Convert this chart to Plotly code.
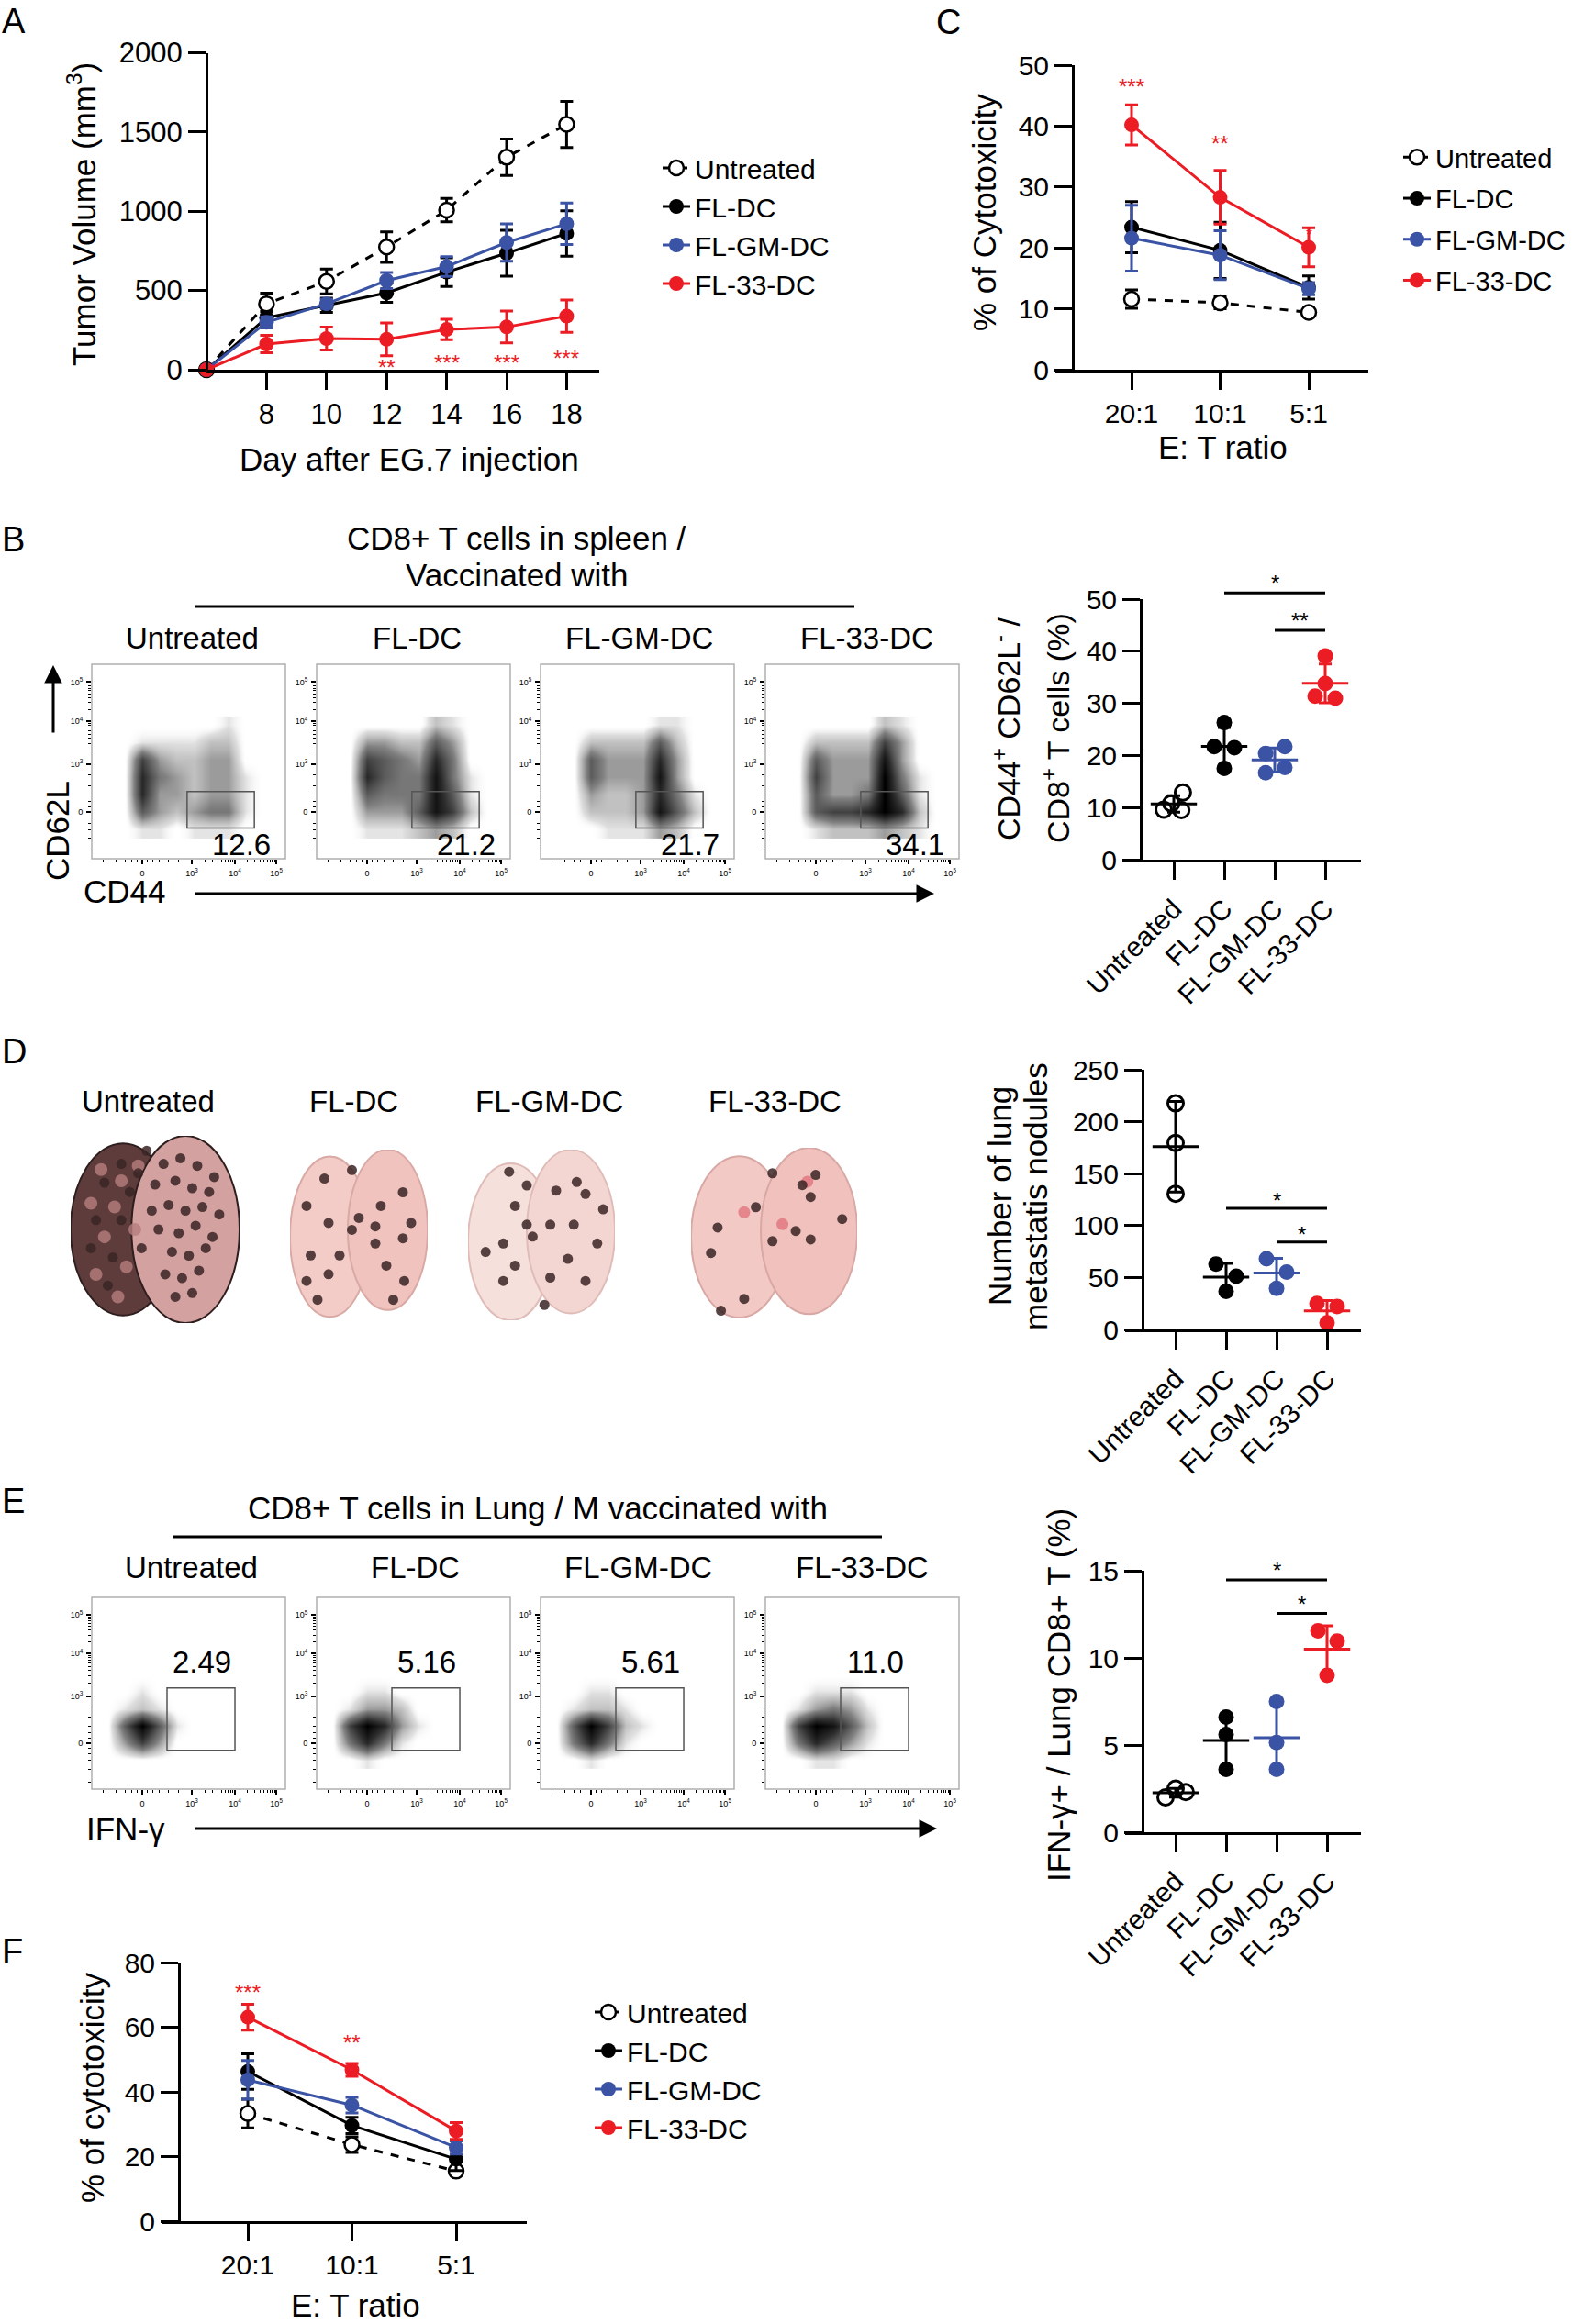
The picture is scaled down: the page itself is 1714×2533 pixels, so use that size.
import numpy as np
import plotly.graph_objects as go

W, H = 1714, 2533
FONT = "Liberation Sans, Arial, Helvetica, sans-serif"
BLACK, BLUE, RED = "#000000", "#3a53a4", "#ec1c24"
COLORS = [BLACK, BLACK, BLUE, RED]

groups = ["Untreated", "FL-DC", "FL-GM-DC", "FL-33-DC"]

# ---- A: tumour growth
days = [6, 8, 10, 12, 14, 16, 18]
vol_untreated = [0, 416, 557, 774, 1007, 1341, 1548]
vol_untreated_err = [0, 68, 78, 96, 74, 115, 145]
vol_fldc = [0, 328, 407, 485, 616, 735, 860]
vol_fldc_err = [0, 40, 45, 60, 90, 145, 143]
vol_flgm = [0, 299, 416, 563, 651, 803, 921]
vol_flgm_err = [0, 35, 30, 50, 62, 118, 131]
vol_fl33 = [0, 162, 197, 192, 254, 270, 338]
vol_fl33_err = [0, 55, 72, 103, 65, 100, 102]
vol_star_days = [12, 14, 16, 18]
vol_star_text = ["**", "***", "***", "***"]
vol_star_y = [35, 65, 65, 94]

# ---- C: cytotoxicity, spleen
et_ratio = ["20:1", "10:1", "5:1"]
cyt_c_untreated = [11.6, 11.0, 9.4]
cyt_c_untreated_err = [1.5, 1.0, 0.5]
cyt_c_fldc = [23.4, 19.6, 13.5]
cyt_c_fldc_err = [4.2, 4.6, 1.9]
cyt_c_flgm = [21.6, 18.8, 13.3]
cyt_c_flgm_err = [5.4, 4.0, 1.0]
cyt_c_fl33 = [40.2, 28.3, 20.1]
cyt_c_fl33_err = [3.3, 4.4, 3.2]
cyt_c_star_text = ["***", "**", "*"]
cyt_c_star_y = [47.0, 37.7, 22.8]

# ---- F: cytotoxicity, lung
cyt_f_untreated = [33.3, 23.7, 15.5]
cyt_f_untreated_err = [4.4, 2.4, 0.8]
cyt_f_fldc = [46.3, 29.6, 19.2]
cyt_f_fldc_err = [5.5, 2.5, 3.5]
cyt_f_flgm = [43.7, 35.9, 22.8]
cyt_f_flgm_err = [6.0, 2.4, 2.0]
cyt_f_fl33 = [63.1, 46.8, 27.9]
cyt_f_fl33_err = [4.0, 2.0, 2.6]
cyt_f_star_text = ["***", "**"]
cyt_f_star_y = [72.0, 56.4]

# ---- B right: CD44+ CD62L- (%)
cd44_untreated = [12.9, 10.8, 9.6, 9.5]
cd44_fldc = [26.3, 21.7, 21.5, 17.5]
cd44_flgm = [21.7, 20.4, 17.7, 16.7]
cd44_fl33 = [39.1, 33.8, 31.4, 31.0]
cd44_sig = [(1, 3, 51.2, "*"), (2, 3, 44.0, "**")]

# ---- D right: lung nodules
nod_untreated = [217.7, 179.6, 130.6]
nod_fldc = [63.0, 51.3, 36.7]
nod_flgm = [68.0, 55.2, 39.6]
nod_fl33 = [25.0, 22.0, 6.5]
nod_sig = [(1, 3, 116.5, "*"), (2, 3, 84.2, "*")]

# ---- E right: IFN-g+ (%)
ifn_untreated = [2.0, 2.5, 2.3]
ifn_fldc = [6.6, 5.6, 3.6]
ifn_flgm = [7.5, 5.15, 3.6]
ifn_fl33 = [11.55, 10.96, 9.0]
ifn_sig = [(1, 3, 14.47, "*"), (2, 3, 12.55, "*")]

# ---- flow plots (gate percentages and rough dot density, top row first)
cd44_gate_pct = ["12.6", "21.2", "21.7", "34.1"]
ifn_gate_pct = ["2.49", "5.16", "5.61", "11.0"]
flow_b_x = [-0.4, 0.0, 0.4, 0.8, 1.2, 1.6, 2.0, 2.4, 2.8]
flow_b_y = [2.0, 1.6, 1.2, 0.8, 0.4, 0.0, -0.4]
dens_b_untreated = [[0, 0, 0, 0, 0, 0, 1, 0, 0],
                    [0, 1, 1, 1, 1, 2, 2, 0, 0],
                    [0, 6, 3, 2, 2, 3, 3, 0, 0],
                    [0, 7, 4, 3, 2, 3, 3, 1, 0],
                    [0, 7, 3, 3, 2, 3, 3, 1, 0],
                    [0, 5, 3, 2, 3, 4, 4, 1, 0],
                    [0, 1, 1, 0, 1, 1, 1, 0, 0]]
dens_b_fldc = [[0, 0, 0, 0, 0, 2, 1, 0, 0],
               [0, 3, 3, 2, 2, 5, 3, 0, 0],
               [0, 6, 5, 4, 3, 7, 4, 0, 0],
               [0, 7, 5, 4, 4, 8, 4, 1, 0],
               [0, 5, 4, 4, 4, 8, 5, 1, 0],
               [0, 3, 3, 3, 5, 8, 6, 2, 0],
               [0, 1, 1, 1, 2, 3, 2, 0, 0]]
dens_b_flgm = [[0, 0, 0, 0, 0, 1, 1, 0, 0],
               [0, 2, 2, 2, 2, 5, 2, 0, 0],
               [0, 5, 3, 3, 3, 7, 3, 0, 0],
               [0, 5, 3, 3, 3, 8, 3, 0, 0],
               [0, 3, 2, 2, 3, 7, 4, 1, 0],
               [0, 2, 2, 2, 3, 8, 5, 2, 0],
               [0, 0, 1, 1, 1, 3, 2, 0, 0]]
dens_b_fl33 = [[0, 0, 0, 0, 0, 2, 1, 0, 0],
               [0, 2, 2, 2, 2, 6, 3, 0, 0],
               [0, 5, 3, 3, 3, 8, 3, 0, 0],
               [0, 6, 3, 3, 3, 9, 4, 1, 0],
               [0, 5, 3, 3, 4, 9, 5, 1, 0],
               [0, 5, 6, 6, 7, 9, 7, 2, 0],
               [0, 1, 2, 2, 2, 3, 2, 1, 0]]
flow_e_x = [-0.8, -0.4, 0.0, 0.4, 0.8, 1.2, 1.6, 2.0, 2.4]
flow_e_y = [1.6, 1.2, 0.8, 0.4, 0.0, -0.4]
dens_e_untreated = [[0, 0, 0, 0, 0, 0, 0, 0, 0],
                    [0, 0, 1, 0, 0, 0, 0, 0, 0],
                    [0, 1, 2, 1, 0, 0, 0, 0, 0],
                    [0, 5, 9, 5, 1, 0, 0, 0, 0],
                    [0, 3, 6, 3, 0, 0, 0, 0, 0],
                    [0, 0, 0, 0, 0, 0, 0, 0, 0]]
dens_e_fldc = [[0, 0, 0, 0, 0, 0, 0, 0, 0],
               [0, 0, 1, 1, 0, 0, 0, 0, 0],
               [0, 1, 3, 3, 2, 0, 0, 0, 0],
               [0, 6, 9, 7, 3, 1, 0, 0, 0],
               [0, 4, 7, 4, 1, 0, 0, 0, 0],
               [0, 0, 1, 0, 0, 0, 0, 0, 0]]
dens_e_flgm = [[0, 0, 0, 0, 0, 0, 0, 0, 0],
               [0, 0, 1, 1, 0, 0, 0, 0, 0],
               [0, 1, 2, 2, 1, 0, 0, 0, 0],
               [0, 5, 9, 6, 2, 1, 0, 0, 0],
               [0, 4, 7, 4, 1, 0, 0, 0, 0],
               [0, 0, 1, 0, 0, 0, 0, 0, 0]]
dens_e_fl33 = [[0, 0, 0, 0, 0, 0, 0, 0, 0],
               [0, 0, 1, 1, 1, 0, 0, 0, 0],
               [0, 1, 3, 4, 3, 1, 0, 0, 0],
               [0, 6, 9, 8, 5, 2, 0, 0, 0],
               [0, 4, 7, 5, 3, 1, 0, 0, 0],
               [0, 0, 1, 1, 0, 0, 0, 0, 0]]

# ---- D left: nodules seen on the lung photographs (relative position in each lung)
spots_untreated_x = [0.55, 0.65, 0.75, 0.85, 0.50, 0.62, 0.72, 0.82, 0.58, 0.68, 0.78, 0.88, 0.52, 0.64, 0.74,
                     0.84, 0.60, 0.70, 0.80, 0.56, 0.66, 0.76, 0.62, 0.72, 0.45, 0.40, 0.48, 0.35, 0.42, 0.30,
                     0.20, 0.15, 0.25, 0.12, 0.22, 0.30]
spots_untreated_y = [0.85, 0.88, 0.84, 0.78, 0.74, 0.76, 0.72, 0.70, 0.63, 0.60, 0.62, 0.58, 0.50, 0.48, 0.52,
                     0.46, 0.38, 0.36, 0.40, 0.26, 0.24, 0.28, 0.14, 0.16, 0.92, 0.80, 0.60, 0.70, 0.40, 0.55,
                     0.75, 0.55, 0.35, 0.40, 0.20, 0.85]
pale_untreated_x = [0.18, 0.30, 0.12, 0.26, 0.38, 0.20, 0.33, 0.15, 0.28, 0.40]
pale_untreated_y = [0.82, 0.76, 0.64, 0.62, 0.50, 0.46, 0.30, 0.26, 0.14, 0.84]
spots_fldc_x = [0.25, 0.45, 0.82, 0.12, 0.66, 0.28, 0.45, 0.88, 0.15, 0.36, 0.62, 0.82, 0.12, 0.28, 0.70,
                0.83, 0.20, 0.75, 0.50, 0.62]
spots_fldc_y = [0.83, 0.88, 0.75, 0.67, 0.67, 0.57, 0.53, 0.57, 0.38, 0.38, 0.45, 0.48, 0.23, 0.27, 0.32,
                0.23, 0.12, 0.12, 0.60, 0.55]
spots_flgm_x = [0.28, 0.40, 0.60, 0.80, 0.74, 0.32, 0.56, 0.24, 0.44, 0.12, 0.32, 0.68, 0.88, 0.56, 0.80,
                0.24, 0.52, 0.92, 0.40, 0.72]
spots_flgm_y = [0.87, 0.79, 0.76, 0.74, 0.81, 0.67, 0.56, 0.45, 0.49, 0.40, 0.32, 0.36, 0.45, 0.25, 0.23,
                0.23, 0.09, 0.65, 0.56, 0.56]
spots_fl33_x = [0.49, 0.75, 0.67, 0.72, 0.39, 0.16, 0.63, 0.72, 0.12, 0.49, 0.91, 0.32, 0.18]
spots_fl33_y = [0.85, 0.84, 0.78, 0.71, 0.65, 0.53, 0.51, 0.46, 0.38, 0.45, 0.58, 0.11, 0.04]
red_fl33_x = [0.32, 0.70, 0.55]
red_fl33_y = [0.62, 0.80, 0.55]


def px_x(p):
    return p / W


def px_y(p):
    return 1 - p / H


def names(n):
    s = "" if n == 1 else str(n)
    return "x" + s, "y" + s, "xaxis" + s, "yaxis" + s


fig = go.Figure()
layout = dict(width=W, height=H, margin=dict(l=0, r=0, t=0, b=0, autoexpand=False),
              paper_bgcolor="white", plot_bgcolor="rgba(0,0,0,0)",
              font=dict(family=FONT, color="black"))
shapes = []
annots = []


def text(x, y, s, size, color="black", xanchor="center", yanchor="middle", **kw):
    annots.append(dict(x=px_x(x), y=px_y(y), xref="paper", yref="paper", text=s, showarrow=False,
                       xanchor=xanchor, yanchor=yanchor,
                       font=dict(size=size, family=FONT, color=color), **kw))


def arrow(tip, tail):
    annots.append(dict(x=px_x(tip[0]), y=px_y(tip[1]), xref="paper", yref="paper",
                       ax=tail[0] - tip[0], ay=tail[1] - tip[1], axref="pixel", ayref="pixel",
                       text="", showarrow=True, arrowhead=2, arrowsize=1.3, arrowwidth=3,
                       arrowcolor="black"))


def axis_style(size=30):
    return dict(showgrid=False, zeroline=False, showline=True, linecolor="black", linewidth=3,
                ticks="outside", ticklen=19, tickwidth=3, tickcolor="black",
                tickfont=dict(size=size, family=FONT, color="black"))


def star(x, v, yrange, xn, yn, s, size, color):
    # stars and brackets may sit above the axis top, so place them on the domain scale
    annots.append(dict(x=x, y=(v - yrange[0]) / (yrange[1] - yrange[0]), xref=xn, yref=yn + " domain",
                       text=s, showarrow=False, yshift=-4, xanchor="center", yanchor="middle",
                       font=dict(size=size, family=FONT, color=color)))


# ---------- line panels (A, C, F)
def line_panel(n, xdom, ydom, yaxis_px, xvals, series, errs, xopt, yopt, legend):
    xn, yn, xk, yk = names(n)
    xa = axis_style(xopt.pop("size", 30))
    xa.update(domain=[px_x(xdom[0]), px_x(xdom[1])], anchor=yn, ticklabelstandoff=0, **xopt)
    ya = axis_style(yopt.pop("size", 30))
    ya.update(domain=[px_y(ydom[1]), px_y(ydom[0])], anchor="free", position=px_x(yaxis_px),
              ticklabelstandoff=0, **yopt)
    layout[xk] = xa
    layout[yk] = ya
    for i, (vals, err) in enumerate(zip(series, errs)):
        c = COLORS[i]
        if i == 0:
            marker = dict(symbol="circle", size=16, color="white", line=dict(color=BLACK, width=2.5))
        else:
            marker = dict(symbol="circle", size=16, color=c, line=dict(color=c, width=0))
        fig.add_trace(go.Scatter(
            x=xvals, y=vals, mode="lines+markers", name=groups[i],
            line=dict(color=c, width=3, dash="dash" if i == 0 else "solid"),
            marker=marker,
            error_y=dict(type="data", array=err, color=c, thickness=3, width=7),
            legend=legend, legendgroup=legend + str(i), cliponaxis=False,
            xaxis=xn, yaxis=yn))
    return xn, yn


# A
A_YR = [0, 2000]
xa_n, ya_n = line_panel(1, (225, 653), (57.5, 403), 225, days,
                        [vol_untreated, vol_fldc, vol_flgm, vol_fl33],
                        [vol_untreated_err, vol_fldc_err, vol_flgm_err, vol_fl33_err],
                        dict(range=[6, 6 + (653 - 225) / 32.7], tickvals=days[1:], size=31),
                        dict(range=A_YR, dtick=500, size=31), "legend")
for d, s, v in zip(vol_star_days, vol_star_text, vol_star_y):
    star(d, v, A_YR, xa_n, ya_n, s, 24, RED)

# C
C_YR = [0, 50]
xc_n, yc_n = line_panel(2, (1150, 1491), (71, 403), 1169, [0, 1, 2],
                        [cyt_c_untreated, cyt_c_fldc, cyt_c_flgm, cyt_c_fl33],
                        [cyt_c_untreated_err, cyt_c_fldc_err, cyt_c_flgm_err, cyt_c_fl33_err],
                        dict(range=[(1150 - 1233) / 96.5, (1491 - 1233) / 96.5], tickvals=[0, 1, 2],
                             ticktext=et_ratio),
                        dict(range=C_YR, dtick=10), "legend2")
for i, (s, v) in enumerate(zip(cyt_c_star_text, cyt_c_star_y)):
    star(i, v, C_YR, xc_n, yc_n, s, 24 if i < 2 else 18, RED)

# F
F_YR = [0, 80]
xf_n, yf_n = line_panel(3, (176, 574), (2139, 2421), 195, [0, 1, 2],
                        [cyt_f_untreated, cyt_f_fldc, cyt_f_flgm, cyt_f_fl33],
                        [cyt_f_untreated_err, cyt_f_fldc_err, cyt_f_flgm_err, cyt_f_fl33_err],
                        dict(range=[(176 - 270) / 113.5, (574 - 270) / 113.5], tickvals=[0, 1, 2],
                             ticktext=et_ratio),
                        dict(range=F_YR, dtick=20), "legend3")
for i, (s, v) in enumerate(zip(cyt_f_star_text, cyt_f_star_y)):
    star(i, v, F_YR, xf_n, yf_n, s, 24, RED)


# ---------- scatter dot plots (B, D, E right)
def dot_panel(n, yaxis_px, ydom, yrange, dtick, values, jitter, sig, star_gap):
    xn, yn, xk, yk = names(n)
    cat0 = yaxis_px + 36
    x0 = yaxis_px - 19
    xa = axis_style(30)
    xa.update(domain=[px_x(x0), px_x(1483)], anchor=yn, range=[(x0 - cat0) / 55, (1483 - cat0) / 55],
              tickvals=[0, 1, 2, 3], ticktext=groups, tickangle=-45, ticklabelstandoff=2)
    ya = axis_style(30)
    ya.update(domain=[px_y(ydom[1]), px_y(ydom[0])], anchor="free", position=px_x(yaxis_px),
              range=yrange, dtick=dtick, ticklabelstandoff=0)
    layout[xk] = xa
    layout[yk] = ya
    for i, vals in enumerate(values):
        c = COLORS[i]
        xs = [i + j for j in jitter[i]]
        if i == 0:
            marker = dict(symbol="circle-open", size=17, color=BLACK, line=dict(width=3))
        else:
            marker = dict(symbol="circle", size=17, color=c)
        fig.add_trace(go.Scatter(x=xs, y=vals, mode="markers", marker=marker, showlegend=False,
                                 cliponaxis=False, xaxis=xn, yaxis=yn))
        arr = np.array(vals)
        fig.add_trace(go.Scatter(
            x=[i], y=[arr.mean()], mode="markers", showlegend=False, cliponaxis=False,
            marker=dict(symbol="line-ew", size=36, line=dict(color=c, width=3)),
            error_y=dict(type="data", array=[arr.std(ddof=1)], color=c, thickness=3, width=7),
            xaxis=xn, yaxis=yn))
    span = yrange[1] - yrange[0]
    for a, b, yv, s in sig:
        yd = (yv - yrange[0]) / span
        shapes.append(dict(type="line", xref=xn, yref=yn + " domain", x0=a, x1=b, y0=yd, y1=yd,
                           line=dict(color="black", width=3)))
        star((a + b) / 2, yv + star_gap, yrange, xn, yn, s, 24, "black")


dot_panel(4, 1243, (653, 937), [0, 50], 10, [cd44_untreated, cd44_fldc, cd44_flgm, cd44_fl33],
          [[0.18, -0.05, -0.2, 0.15], [0, -0.2, 0.2, 0], [0.2, -0.18, 0.2, -0.18], [0, 0, -0.2, 0.2]],
          cd44_sig, 2.6)
dot_panel(5, 1245, (1166, 1449), [0, 250], 50, [nod_untreated, nod_fldc, nod_flgm, nod_fl33],
          [[0, 0, 0], [-0.2, 0.2, 0], [-0.2, 0.2, 0], [-0.2, 0.2, 0]], nod_sig, 11)
dot_panel(6, 1245, (1712, 1997), [0, 15], 5, [ifn_untreated, ifn_fldc, ifn_flgm, ifn_fl33],
          [[-0.2, 0, 0.2], [0, 0, 0], [0, 0, 0], [-0.18, 0.2, 0]], ifn_sig, 0.75)

# ---------- flow cytometry plots (B, E left)
FLOW_SCALE = [[0, "rgba(255,255,255,0)"], [0.12, "rgba(215,215,215,0.8)"],
              [0.4, "rgb(130,130,130)"], [0.75, "rgb(45,45,45)"], [1, "rgb(0,0,0)"]]
FLOW_XRANGE = [-1.17, 3.32]
FLOW_YRANGE = [-1.07, 3.40]
FLOW_XTICKS = [0, 1.15, 2.15, 3.11]
FLOW_YTICKS = [0, 1.10, 2.09, 2.99]
FLOW_TICKTEXT = ["0", "10<sup>3</sup>", "10<sup>4</sup>", "10<sup>5</sup>"]


def minor_ticks(major, low, high):
    out = [v for v in (-0.9, -0.6, -0.4, -0.25, -0.12, 0.12, 0.25, 0.4, 0.6, 0.85) if low < v < high]
    for a, b in zip(major[1:-1], major[2:]):
        out += [a + np.log10(k) * (b - a) for k in range(2, 10)]
    return out


def flow_axis(dom, rng, ticks, anchor, minor):
    return dict(domain=dom, range=rng, anchor=anchor, showgrid=False, zeroline=False, showline=False,
                ticks="outside", ticklen=5, tickwidth=2, tickcolor="black", tickmode="array",
                tickvals=ticks, ticktext=FLOW_TICKTEXT, ticklabelstandoff=2,
                tickfont=dict(size=9, family=FONT, color="black"),
                minor=dict(ticks="outside", ticklen=3, tickwidth=1, tickcolor="black",
                           tickmode="array", tickvals=minor))


def flow_panel(n, left, top, bottom, xc, yc, dens, gate, pct, pct_xy, pct_anchor):
    xn, yn, xk, yk = names(n)
    fig.add_trace(go.Heatmap(x=xc, y=yc[::-1], z=dens[::-1], zmin=0, zmax=9, zsmooth="best",
                             colorscale=FLOW_SCALE, showscale=False, hoverinfo="skip",
                             xaxis=xn, yaxis=yn))
    layout[xk] = flow_axis([px_x(left), px_x(left + 211)], FLOW_XRANGE, FLOW_XTICKS, yn,
                           minor_ticks(FLOW_XTICKS, *FLOW_XRANGE))
    layout[yk] = flow_axis([px_y(bottom), px_y(top)], FLOW_YRANGE, FLOW_YTICKS, xn,
                           minor_ticks(FLOW_YTICKS, *FLOW_YRANGE))
    shapes.append(dict(type="rect", xref=xn + " domain", yref=yn + " domain", x0=0, x1=1, y0=0, y1=1,
                       line=dict(color="#b0b0b0", width=1.5)))
    shapes.append(dict(type="rect", xref=xn, yref=yn, x0=gate[0], x1=gate[1], y0=gate[2], y1=gate[3],
                       line=dict(color="#555555", width=1.5)))
    annots.append(dict(x=pct_xy[0], y=pct_xy[1], xref=xn, yref=yn, text=pct, showarrow=False,
                       xanchor=pct_anchor, yanchor="middle",
                       font=dict(size=33, family=FONT, color="black")))


flow_left = [100, 345, 589, 834]
for k, dens in enumerate([dens_b_untreated, dens_b_fldc, dens_b_flgm, dens_b_fl33]):
    flow_panel(7 + k, flow_left[k], 724, 936, flow_b_x, flow_b_y, dens,
               (1.04, 2.6, -0.365, 0.475), cd44_gate_pct[k], (3.02, -0.75), "right")
for k, dens in enumerate([dens_e_untreated, dens_e_fldc, dens_e_flgm, dens_e_fl33]):
    flow_panel(11 + k, flow_left[k], 1741, 1950, flow_e_x, flow_e_y, dens,
               (0.575, 2.15, -0.165, 1.29), ifn_gate_pct[k], (1.38, 1.9), "center")

# ---------- lung photographs (D left), drawn as lobes with dark nodules
lung_boxes = [(77, 261, 1238, 1442), (316, 466, 1253, 1439), (510, 670, 1253, 1439), (753, 934, 1251, 1436)]
lung_lobes = [
    [((0.0, 0.62, 0.04, 0.96), "#5e3c3c"), ((0.36, 1.0, 0.0, 1.0), "#d3a2a0")],
    [((0.0, 0.58, 0.02, 0.96), "#f3cbc7"), ((0.42, 1.0, 0.06, 1.0), "#f1c3bf")],
    [((0.0, 0.58, 0.0, 0.92), "#f6e0dc"), ((0.40, 1.0, 0.04, 1.0), "#f3d5d1")],
    [((0.0, 0.58, 0.0, 0.95), "#f3c9c5"), ((0.42, 1.0, 0.02, 1.0), "#f0c1bd")],
]
lung_edge = ["#2e1e1e", "#d9a9a5", "#dfbcb8", "#d8a8a4"]
lung_spots = [(spots_untreated_x, spots_untreated_y), (spots_fldc_x, spots_fldc_y),
              (spots_flgm_x, spots_flgm_y), (spots_fl33_x, spots_fl33_y)]
for k in range(4):
    n = 15 + k
    xn, yn, xk, yk = names(n)
    bx = lung_boxes[k]
    layout[xk] = dict(domain=[px_x(bx[0]), px_x(bx[1])], range=[0, 1], visible=False, anchor=yn)
    layout[yk] = dict(domain=[px_y(bx[3]), px_y(bx[2])], range=[0, 1], visible=False, anchor=xn)
    for (x0, x1, y0, y1), col in lung_lobes[k]:
        shapes.append(dict(type="circle", xref=xn, yref=yn, x0=x0, x1=x1, y0=y0, y1=y1, layer="below",
                           fillcolor=col, line=dict(color=lung_edge[k], width=2)))
    if k == 0:
        fig.add_trace(go.Scatter(x=pale_untreated_x, y=pale_untreated_y, mode="markers", showlegend=False,
                                 hoverinfo="skip", marker=dict(size=14, color="#b77d7d", opacity=0.8),
                                 xaxis=xn, yaxis=yn))
    if k == 3:
        fig.add_trace(go.Scatter(x=red_fl33_x, y=red_fl33_y, mode="markers", showlegend=False,
                                 hoverinfo="skip", marker=dict(size=13, color="#dc5a68", opacity=0.6),
                                 xaxis=xn, yaxis=yn))
    sx, sy = lung_spots[k]
    fig.add_trace(go.Scatter(x=sx, y=sy, mode="markers", showlegend=False, hoverinfo="skip",
                             marker=dict(size=11, color="#3a2424", opacity=0.85),
                             xaxis=xn, yaxis=yn))

# ---------- texts
for s, x, y in [("A", 0, 0), ("C", 1018, 1), ("B", 0, 565), ("D", 0, 1123), ("E", 0, 1613), ("F", 0, 2104)]:
    text(x, y, s, 38, xanchor="left", yanchor="top")

text(89, 234, "Tumor Volume (mm<sup>3</sup>)", 35, textangle=-90)
text(446, 500, "Day after EG.7 injection", 35)
text(1073, 232, "% of Cytotoxicity", 35, textangle=-90)
text(1332, 488, "E: T ratio", 35)
text(100, 2276, "% of cytotoxicity", 35, textangle=-90)
text(387, 2512, "E: T ratio", 35)

text(563, 587, "CD8+ T cells in spleen /", 35)
text(563, 627, "Vaccinated with", 35)
shapes.append(dict(type="line", xref="paper", yref="paper", x0=px_x(213), x1=px_x(931),
                   y0=px_y(661), y1=px_y(661), line=dict(color="black", width=3)))
for s, x in zip(groups, [209, 455, 696, 944]):
    text(x, 695, s, 33)
text(135, 972, "CD44", 35)
text(62, 905, "CD62L", 35, textangle=-90)
arrow((1018, 974), (211, 974))
arrow((58, 725), (58, 800))
text(1096, 794, "CD44<sup>+</sup> CD62L<sup>-</sup> /", 34, textangle=-90)
text(1150, 794, "CD8<sup>+</sup> T cells (%)", 34, textangle=-90)

for s, x in zip(groups, [161, 385, 598, 844]):
    text(x, 1200, s, 33)
text(1089, 1304, "Number of lung", 35, textangle=-90)
text(1128, 1304, "metastatis nodules", 35, textangle=-90)

text(586, 1643, "CD8+ T cells in Lung / M vaccinated with", 35)
shapes.append(dict(type="line", xref="paper", yref="paper", x0=px_x(189), x1=px_x(961),
                   y0=px_y(1675), y1=px_y(1675), line=dict(color="black", width=3)))
for s, x in zip(groups, [208, 452, 695, 939]):
    text(x, 1708, s, 33)
text(137, 1993, "IFN-γ", 35)
arrow((1021, 1993), (211, 1993))
text(1153, 1848, "IFN-γ+ / Lung CD8+ T (%)", 35, textangle=-90)

# ---------- legends
LEG = dict(bgcolor="rgba(0,0,0,0)", borderwidth=0, xanchor="left", yanchor="top", itemclick=False)
layout["legend"] = dict(LEG, x=px_x(717), y=px_y(157), font=dict(size=30, family=FONT), tracegroupgap=0)
layout["legend2"] = dict(LEG, x=px_x(1524), y=px_y(146), font=dict(size=29, family=FONT), tracegroupgap=4)
layout["legend3"] = dict(LEG, x=px_x(643), y=px_y(2167), font=dict(size=30, family=FONT), tracegroupgap=0)

layout["shapes"] = shapes
layout["annotations"] = annots
fig.update_layout(**layout)

fig.write_html("out.html", config={"displayModeBar": False},
               post_script="document.body.style.margin='0';")
